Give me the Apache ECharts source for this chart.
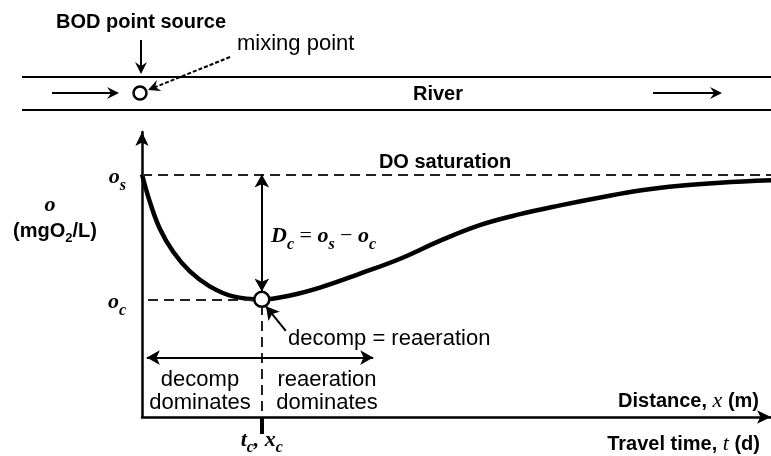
<!DOCTYPE html>
<html>
<head>
<meta charset="utf-8">
<title>DO sag curve</title>
<script src="https://cdn.jsdelivr.net/npm/echarts@6.0.0/dist/echarts.min.js"></script>
<style>
    html, body { margin: 0; padding: 0; background: #fff; }
    #chart1 { width: 771px; height: 456px; }
</style>
</head>
<body>
<div id="chart1"></div>
<script>
// sag curve (travel time, dissolved oxygen)
var timeVals = [0, 0.134, 0.30, 0.52, 0.80, 1.13, 1.52, 2.0, 2.47, 2.97, 3.64, 4.31, 4.97, 5.64, 6.31, 6.98, 7.65, 8.31, 8.98, 9.65, 10.5];
var doVals = [8.0, 7.08, 6.20, 5.45, 4.80, 4.31, 3.98, 3.88, 4.01, 4.27, 4.73, 5.22, 5.81, 6.33, 6.69, 6.98, 7.24, 7.47, 7.63, 7.73, 7.81];
var satDO = 8.0;     // o_s
var critDO = 3.88;   // o_c
var critT = 2.0;     // t_c
var tMax = 10.5;
var doMax = 9.4;

var sans = '"Liberation Sans", Arial, sans-serif';
var serif = '"Liberation Serif", "Times New Roman", serif';

var myChart1 = echarts.init(document.getElementById('chart1'));

function getCurve() {
    var arr = [];
    for (var i = 0; i < timeVals.length; i++) {
        arr.push([timeVals[i], doVals[i]]);
    }
    return arr;
}

// rich styles, main glyphs hang from the top, subscripts sit on the bottom
var mathRich = {
    i: {fontFamily: serif, fontStyle: 'italic', fontWeight: 'bold', fontSize: 22, lineHeight: 27, verticalAlign: 'top', color: '#000'},
    r: {fontFamily: serif, fontSize: 22, lineHeight: 27, verticalAlign: 'top', color: '#000'},
    s: {fontFamily: serif, fontStyle: 'italic', fontWeight: 'bold', fontSize: 16, lineHeight: 27, verticalAlign: 'bottom', color: '#000'},
    b: {fontFamily: sans, fontWeight: 'bold', fontSize: 20, lineHeight: 23, verticalAlign: 'top', color: '#000'},
    bs: {fontFamily: sans, fontWeight: 'bold', fontSize: 13, lineHeight: 23, verticalAlign: 'bottom', color: '#000'},
    bm: {fontFamily: sans, fontWeight: 'bold', fontSize: 20, color: '#000'},
    nm: {fontFamily: serif, fontStyle: 'italic', fontSize: 22, color: '#000'}
};

function arrowHead(x1, y1, x2, y2, len, half) {
    var dx = x2 - x1, dy = y2 - y1;
    var d = Math.sqrt(dx * dx + dy * dy);
    var ux = dx / d, uy = dy / d;
    var nx = -uy, ny = ux;
    var bx = x2 - ux * len, by = y2 - uy * len;
    var mx = x2 - ux * len * 0.65, my = y2 - uy * len * 0.65;
    return {
        type: 'polygon',
        shape: {points: [[x2, y2], [bx + nx * half, by + ny * half], [mx, my], [bx - nx * half, by - ny * half]]},
        style: {fill: '#000'}
    };
}

function arrowLine(x1, y1, x2, y2, dash) {
    var dx = x2 - x1, dy = y2 - y1;
    var d = Math.sqrt(dx * dx + dy * dy);
    var ex = x2 - dx / d * 6, ey = y2 - dy / d * 6;
    return [{
        type: 'line',
        shape: {x1: x1, y1: y1, x2: ex, y2: ey},
        style: {stroke: '#000', lineWidth: 2, lineDash: dash ? [4, 2] : null}
    }, arrowHead(x1, y1, x2, y2, 12, 6)];
}

function txt(x, y, text, align, font, rich) {
    return {
        type: 'text', x: x, y: y, z: 10,
        style: {
            text: text, fill: '#000',
            fontFamily: font.family || sans, fontSize: font.size || 20, fontWeight: font.weight || 'normal',
            fontStyle: font.style || 'normal',
            align: align, textAlign: align, verticalAlign: 'middle', textVerticalAlign: 'middle',
            rich: rich || null
        }
    };
}

var graphics = [];
// river sketch
graphics.push({type: 'line', shape: {x1: 22, y1: 77, x2: 771, y2: 77}, style: {stroke: '#000', lineWidth: 2}});
graphics.push({type: 'line', shape: {x1: 22, y1: 110, x2: 771, y2: 110}, style: {stroke: '#000', lineWidth: 2}});
graphics = graphics.concat(arrowLine(52, 93, 119, 93, false));
graphics = graphics.concat(arrowLine(653, 93, 722, 93, false));
graphics = graphics.concat(arrowLine(141, 40, 141, 74, false));
graphics = graphics.concat(arrowLine(230, 57, 148, 90, true));
graphics.push({type: 'circle', shape: {cx: 140, cy: 93, r: 6.5}, style: {fill: '#fff', stroke: '#000', lineWidth: 2.5}});
graphics.push(txt(141, 22, 'BOD point source', 'center', {weight: 'bold', size: 20}));
graphics.push(txt(237, 44, 'mixing point', 'left', {size: 22}));
graphics.push(txt(438, 94, 'River', 'center', {weight: 'bold', size: 20}));

// chart texts
graphics.push(txt(445, 162, 'DO saturation', 'center', {weight: 'bold', size: 20}));
graphics.push(txt(50, 208, '{i|o}', 'center', {}, mathRich));
graphics.push(txt(55, 233, '{b|(mgO}{bs|2}{b|/L)}', 'center', {}, mathRich));
graphics.push(txt(271, 239, '{i|D}{s|c}{r| = }{i|o}{s|s}{r| \u2212 }{i|o}{s|c}', 'left', {}, mathRich));
graphics.push(txt(288, 339, 'decomp = reaeration', 'left', {size: 22}));
graphics.push(txt(200, 380, 'decomp', 'center', {size: 22}));
graphics.push(txt(200, 403, 'dominates', 'center', {size: 22}));
graphics.push(txt(327, 380, 'reaeration', 'center', {size: 22}));
graphics.push(txt(327, 403, 'dominates', 'center', {size: 22}));
graphics.push(txt(759, 401, '{bm|Distance, }{nm|x}{bm| (m)}', 'right', {}, mathRich));
graphics.push(txt(760, 444, '{bm|Travel time, }{nm|t}{bm| (d)}', 'right', {}, mathRich));

var dashStyle = {color: '#222', width: 2, type: [10, 6]};
var solidStyle = {color: '#000', width: 2, type: 'solid'};

option = {
    animation: false,
    backgroundColor: '#fff',
    grid: {left: 142, right: 0, top: 132, bottom: 36},
    xAxis: {
        type: 'value',
        min: 0,
        max: tMax,
        axisLine: {show: true, symbol: ['none', 'arrow'], symbolSize: [10, 14], lineStyle: {color: '#000', width: 2.5}},
        axisTick: {show: true, customValues: [critT], length: 17, lineStyle: {color: '#000', width: 4}},
        axisLabel: {
            customValues: [critT],
            margin: 12,
            formatter: function () { return '{i|t}{s|c}{i|, x}{s|c}'; },
            rich: mathRich
        },
        splitLine: {show: false}
    },
    yAxis: {
        type: 'value',
        min: 0,
        max: doMax,
        axisLine: {show: true, symbol: ['none', 'arrow'], symbolSize: [10, 14], lineStyle: {color: '#000', width: 2.5}},
        axisTick: {show: false},
        axisLabel: {
            customValues: [critDO, satDO],
            margin: 16,
            padding: [11, 0, 0, 0],
            formatter: function (v) { return v > 5 ? '{i|o}{s|s}' : '{i|o}{s|c}'; },
            rich: mathRich
        },
        splitLine: {show: false}
    },
    series: [
        {
            type: 'line',
            data: getCurve(),
            smooth: 0.4,
            showSymbol: false,
            clip: false,
            silent: true,
            lineStyle: {color: '#000', width: 4.5},
            markLine: {
                silent: true,
                symbol: ['none', 'none'],
                symbolSize: [11, 13],
                label: {show: false},
                data: [
                    [{coord: [0, satDO], lineStyle: dashStyle}, {coord: [tMax, satDO], lineStyle: dashStyle}],
                    [{coord: [0.1, critDO], lineStyle: dashStyle}, {coord: [1.89, critDO], lineStyle: dashStyle}],
                    [{coord: [critT, 3.69], lineStyle: dashStyle}, {coord: [critT, 0], lineStyle: dashStyle}],
                    [{coord: [critT, satDO], symbol: 'arrow', lineStyle: solidStyle}, {coord: [critT, 4.14], symbol: 'arrow', lineStyle: solidStyle}],
                    [{coord: [0.08, 1.96], symbol: 'arrow', lineStyle: solidStyle}, {coord: [3.86, 1.96], symbol: 'arrow', lineStyle: solidStyle}],
                    [{coord: [2.4, 2.84], symbol: 'none', lineStyle: solidStyle}, {coord: [2.07, 3.65], symbol: 'arrow', lineStyle: solidStyle}]
                ]
            }
        },
        {
            type: 'scatter',
            data: [[critT, critDO]],
            symbolSize: 15,
            z: 5,
            silent: true,
            itemStyle: {color: '#fff', opacity: 1, borderColor: '#000', borderWidth: 2.5}
        }
    ],
    graphic: graphics
};
myChart1.setOption(option);
</script>
</body>
</html>
